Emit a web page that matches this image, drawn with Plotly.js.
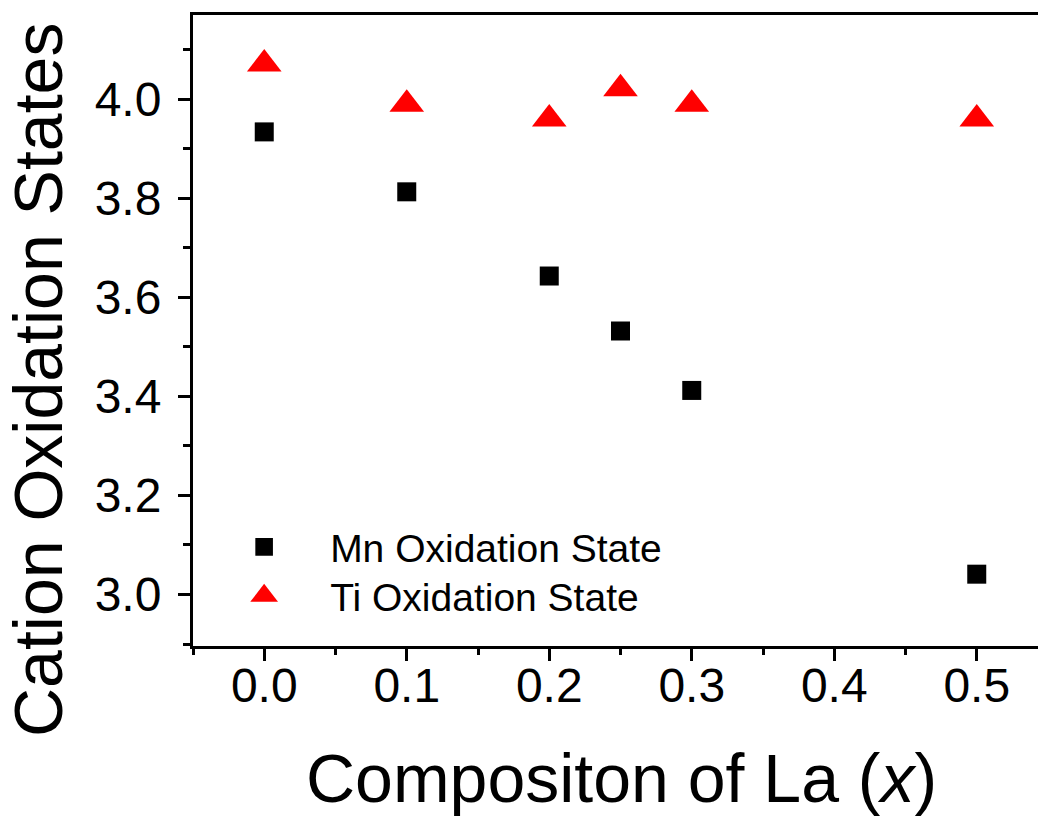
<!DOCTYPE html>
<html>
<head>
<meta charset="utf-8">
<script src="https://cdn.plot.ly/plotly-3.0.1.min.js"></script>
<style>
  html, body { margin: 0; padding: 0; overflow: hidden; background: #fff; }
  #chart { width: 1058px; height: 816px; }
</style>
</head>
<body>
<div id="chart"></div>
<script>
// ---- data ----
const compositionLa = [0.0, 0.1, 0.2, 0.25, 0.3, 0.5];
const mnOxidation   = [3.934, 3.813, 3.643, 3.532, 3.412, 3.041];
const tiOxidation   = [4.071, 3.990, 3.960, 4.021, 3.990, 3.960];

const seriesNames = ['Mn Oxidation State', 'Ti Oxidation State'];

const xTickVals = [0.0, 0.1, 0.2, 0.3, 0.4, 0.5];
const xTickText = ['0.0', '0.1', '0.2', '0.3', '0.4', '0.5'];
const yTickVals = [3.0, 3.2, 3.4, 3.6, 3.8, 4.0];
const yTickText = ['3.0', '3.2', '3.4', '3.6', '3.8', '4.0'];

const xTitle = 'Compositon of La (<i>x</i>)';
const yTitle = 'Cation Oxidation States';

const FONT = 'Liberation Sans, Arial, sans-serif';

// plot-area geometry (px) used to place the titles
const PLOT_L = 193, PLOT_W = 855, PLOT_T = 15, PLOT_H = 631;

const traces = [
  {
    x: compositionLa, y: mnOxidation, name: seriesNames[0],
    type: 'scatter', mode: 'markers', legend: 'legend',
    marker: { symbol: 'square', size: 19, color: '#000000', line: { width: 0 } }
  },
  {
    x: compositionLa, y: tiOxidation, name: seriesNames[1],
    type: 'scatter', mode: 'markers', legend: 'legend2',
    marker: { symbol: 'triangle-up', size: 30, color: '#ff0000', line: { width: 0 } }
  }
];

const legendCommon = {
  xanchor: 'left', yanchor: 'top',
  bgcolor: 'rgba(0,0,0,0)', borderwidth: 0,
  font: { family: FONT, size: 39, color: '#000000' },
  itemwidth: 122
};

const layout = {
  width: 1058, height: 816,
  margin: { l: PLOT_L, r: 1058 - PLOT_L - PLOT_W, t: PLOT_T, b: 816 - PLOT_T - PLOT_H },
  paper_bgcolor: '#ffffff', plot_bgcolor: '#ffffff',
  font: { family: FONT, color: '#000000' },
  showlegend: true,
  legend: Object.assign({ x: 0.006, y: 0.2076 }, legendCommon),
  legend2: Object.assign({ x: 0.006, y: 0.1300 }, legendCommon),
  xaxis: {
    range: [-0.05, 0.55],
    tickmode: 'array', tickvals: xTickVals, ticktext: xTickText,
    ticks: 'outside', ticklen: 12, tickwidth: 3, tickcolor: '#000',
    minor: { dtick: 0.05, tick0: 0, ticks: 'outside', ticklen: 6, tickwidth: 3, tickcolor: '#000' },
    showline: true, linewidth: 3, linecolor: '#000', mirror: true,
    showgrid: false, zeroline: false,
    ticklabelstandoff: -17,
    tickfont: { family: FONT, size: 48, color: '#000' }
  },
  yaxis: {
    range: [2.896, 4.170],
    tickmode: 'array', tickvals: yTickVals, ticktext: yTickText,
    ticks: 'outside', ticklen: 12, tickwidth: 3, tickcolor: '#000',
    minor: { dtick: 0.1, tick0: 0, ticks: 'outside', ticklen: 7, tickwidth: 3, tickcolor: '#000' },
    showline: true, linewidth: 3, linecolor: '#000', mirror: true,
    showgrid: false, zeroline: false,
    ticklabelstandoff: 7,
    tickfont: { family: FONT, size: 48, color: '#000' }
  },
  annotations: [
    {
      text: xTitle, xref: 'paper', yref: 'paper', showarrow: false,
      x: (621 - PLOT_L) / PLOT_W, y: (PLOT_T + PLOT_H - 778) / PLOT_H,
      xanchor: 'center', yanchor: 'middle',
      font: { family: FONT, size: 68, color: '#000' }
    },
    {
      text: yTitle, xref: 'paper', yref: 'paper', showarrow: false, textangle: -90,
      x: (38 - PLOT_L) / PLOT_W, y: (PLOT_T + PLOT_H - 380) / PLOT_H,
      xanchor: 'center', yanchor: 'middle',
      font: { family: FONT, size: 68, color: '#000' }
    }
  ]
};

Plotly.newPlot('chart', traces, layout, { staticPlot: true, displayModeBar: false }).then(function (gd) {
  // enlarge legend symbols (Plotly caps them at 16px) to match the reference
  const scales = { legend: 1.1, legend2: 1.5 };
  Object.keys(scales).forEach(function (cls) {
    gd.querySelectorAll('g.' + cls + ' .legendpoints path.scatterpts').forEach(function (p) {
      const t = p.getAttribute('transform') || '';
      p.setAttribute('transform', t + ' scale(' + scales[cls] + ')');
    });
  });
});
</script>
</body>
</html>
